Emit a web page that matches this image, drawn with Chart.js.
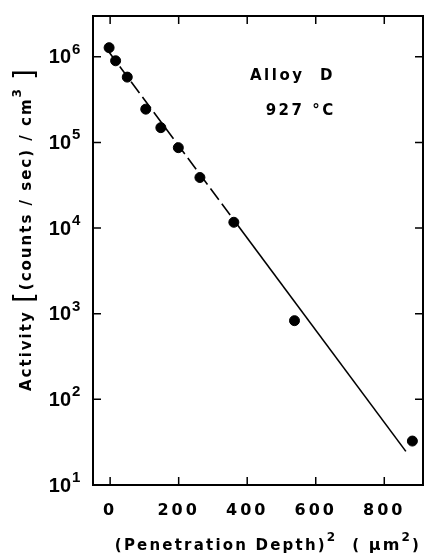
<!DOCTYPE html>
<html>
<head>
<meta charset="utf-8">
<script src="https://cdn.jsdelivr.net/npm/chart.js@4"></script>
<style>
  body { margin: 0; background: #fff; }
  #wrap { width: 429px; height: 557px; }
</style>
</head>
<body>
<div id="wrap"><canvas id="chart" width="429" height="557"></canvas></div>
<script>
// Data
const depthSq = [-3, 16, 50, 104, 148, 199, 262, 361, 538, 882];           // (um^2)
const activity = [1.28e6, 9.0e5, 5.8e5, 2.45e5, 1.49e5, 8.7e4, 3.9e4, 1.17e4, 830, 32.6];
const fitX = [-5, 361, 863];
const fitY = [1.16e6, 1.245e4, 24.7];
const xTicks = [0, 200, 400, 600, 800];
const yTicks = [1e1, 1e2, 1e3, 1e4, 1e5, 1e6];
const notes = [
  { text: 'Alloy  D', x: 532, y: 6.0e5 },
  { text: '927 °C', x: 556, y: 2.3e5 }
];

const FONT = '"DejaVu Sans", sans-serif';

// draws a list of [text, size, rise, weight] pieces in a row, starting at x
function drawPieces(ctx, pieces, x, y) {
  pieces.forEach(p => {
    ctx.font = (p[3] || 'bold') + ' ' + p[1] + 'px ' + FONT;
    ctx.fillText(p[0], x, y - (p[2] || 0));
    x += ctx.measureText(p[0]).width;
  });
}
function piecesWidth(ctx, pieces) {
  let w = 0;
  pieces.forEach(p => {
    ctx.font = (p[3] || 'bold') + ' ' + p[1] + 'px ' + FONT;
    w += ctx.measureText(p[0]).width;
  });
  return w;
}

// Frame, inward ticks, labels and titles
const framePlugin = {
  id: 'frame',
  beforeDraw(chart) {
    chart.ctx.letterSpacing = '3px';
  },
  afterDraw(chart) {
    const ctx = chart.ctx;
    const a = chart.chartArea;
    const xs = chart.scales.x, ys = chart.scales.y;
    ctx.save();
    ctx.strokeStyle = '#000';
    ctx.fillStyle = '#000';
    ctx.lineWidth = 2;
    ctx.strokeRect(a.left, a.top, a.right - a.left, a.bottom - a.top);

    // inward ticks
    ctx.lineWidth = 1.5;
    ctx.beginPath();
    xTicks.forEach(v => {
      const px = xs.getPixelForValue(v);
      ctx.moveTo(px, a.bottom); ctx.lineTo(px, a.bottom - 8);
      ctx.moveTo(px, a.top); ctx.lineTo(px, a.top + 8);
    });
    yTicks.forEach(v => {
      const py = ys.getPixelForValue(v);
      ctx.moveTo(a.left, py); ctx.lineTo(a.left + 8, py);
      ctx.moveTo(a.right, py); ctx.lineTo(a.right - 8, py);
    });
    ctx.stroke();

    // y tick labels: 10 with exponent
    ctx.letterSpacing = '0px';
    yTicks.forEach(v => {
      const py = ys.getPixelForValue(v);
      const exp = String(Math.round(Math.log10(v)));
      ctx.textAlign = 'right';
      ctx.textBaseline = 'middle';
      ctx.font = 'bold 20px "Liberation Sans", sans-serif';
      ctx.fillText('10', 71, py + 1);
      ctx.textAlign = 'left';
      ctx.textBaseline = 'alphabetic';
      ctx.font = 'bold 15px "Liberation Sans", sans-serif';
      ctx.fillText(exp, 72, py - 3);
    });

    // notes inside the plot
    ctx.letterSpacing = '2.5px';
    ctx.textAlign = 'center';
    ctx.textBaseline = 'middle';
    ctx.font = 'bold 15px ' + FONT;
    notes.forEach(n => {
      ctx.fillText(n.text, xs.getPixelForValue(n.x), ys.getPixelForValue(n.y));
    });

    // x title
    ctx.letterSpacing = '2.2px';
    ctx.textAlign = 'left';
    ctx.textBaseline = 'middle';
    const xt = [['(Penetration Depth)', 15], ['2', 12, 8], ['  ( ', 15], ['\u03bcm', 16], ['2', 12, 8], [')', 15]];
    const xw = piecesWidth(ctx, xt);
    drawPieces(ctx, xt, 268 - xw / 2, 546);

    // y title, rotated
    ctx.letterSpacing = '2px';
    const yt = [['Activity ', 15], ['[', 28, 0, 'normal'], ['(counts / sec) / cm', 15], ['3', 12, 9], [' ', 15], [']', 28, 0, 'normal']];
    const yw = piecesWidth(ctx, yt);
    ctx.translate(27, 229);
    ctx.rotate(-Math.PI / 2);
    drawPieces(ctx, yt, -yw / 2, 0);
    ctx.restore();
  }
};

new Chart(document.getElementById('chart'), {
  type: 'scatter',
  data: {
    datasets: [
      {
        type: 'line',
        data: fitX.map((x, i) => ({ x: x, y: fitY[i] })),
        borderColor: '#000',
        borderWidth: 1.6,
        pointRadius: 0,
        fill: false,
        segment: {
          borderDash: c => c.p0DataIndex === 0 ? [14, 5] : []
        }
      },
      {
        data: depthSq.map((x, i) => ({ x: x, y: activity[i] })),
        backgroundColor: '#000',
        borderColor: '#000',
        pointRadius: 5,
        pointHoverRadius: 5
      }
    ]
  },
  options: {
    responsive: false,
    animation: false,
    events: [],
    layout: { padding: { top: 16, right: 1, left: 0, bottom: 0 } },
    plugins: { legend: { display: false }, tooltip: { enabled: false } },
    scales: {
      x: {
        type: 'linear',
        min: -50,
        max: 913,
        afterBuildTicks: s => { s.ticks = xTicks.map(v => ({ value: v })); },
        afterFit: s => { s.height = 72; },
        border: { display: false },
        grid: { display: false, drawTicks: false },
        ticks: {
          color: '#000',
          padding: 16,
          font: { family: FONT, size: 16, weight: 'bold' }
        }
      },
      y: {
        type: 'logarithmic',
        min: 10,
        max: 3e6,
        afterBuildTicks: s => { s.ticks = yTicks.map(v => ({ value: v })); },
        afterFit: s => { s.width = 93; },
        border: { display: false },
        grid: { display: false, drawTicks: false },
        ticks: { display: false }
      }
    }
  },
  plugins: [framePlugin]
});
</script>
</body>
</html>
